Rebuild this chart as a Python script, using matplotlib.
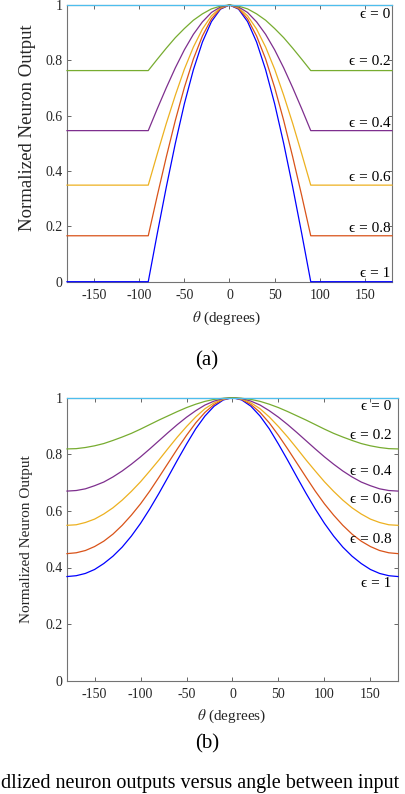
import numpy as np
import matplotlib.pyplot as plt

plt.rcParams['font.family'] = ['Liberation Serif', 'DejaVu Serif']
plt.rcParams['mathtext.fontset'] = 'stix'
plt.rcParams['axes.unicode_minus'] = False

# epsilon values and line colours (MATLAB order)
eps_labels = ['0', '0.2', '0.4', '0.6', '0.8', '1']
colors = [(0.301, 0.745, 0.933), (0.466, 0.674, 0.188), (0.494, 0.184, 0.556),
          (0.929, 0.694, 0.125), (0.850, 0.325, 0.098), (0.0, 0.0, 1.0)]

# (a) for theta >= 0, curves are symmetric
theta_a = [0, 10, 20, 30, 40, 50, 60, 70, 80, 90, 180]
a_eps0 = [1, 1, 1, 1, 1, 1, 1, 1, 1, 1, 1]
a_eps02 = [1, 0.996, 0.986, 0.968, 0.945, 0.915, 0.882, 0.844, 0.804, 0.763, 0.763]
a_eps04 = [1, 0.993, 0.973, 0.939, 0.894, 0.838, 0.773, 0.701, 0.625, 0.546, 0.546]
a_eps06 = [1, 0.990, 0.961, 0.913, 0.848, 0.768, 0.674, 0.572, 0.462, 0.349, 0.349]
a_eps08 = [1, 0.987, 0.950, 0.888, 0.805, 0.702, 0.583, 0.451, 0.311, 0.166, 0.166]
a_eps1 = [1, 0.985, 0.940, 0.866, 0.766, 0.643, 0.500, 0.342, 0.174, 0, 0]

# (b)
theta_b = [0, 10, 20, 30, 40, 50, 60, 70, 80, 90, 100, 110, 120, 130, 140, 150, 160, 170, 180]
b_eps0 = [1] * 19
b_eps02 = [1, 0.998, 0.994, 0.987, 0.977, 0.965, 0.951, 0.936, 0.921, 0.905,
           0.889, 0.874, 0.861, 0.849, 0.838, 0.830, 0.824, 0.820, 0.819]
b_eps04 = [1, 0.997, 0.988, 0.974, 0.954, 0.931, 0.905, 0.877, 0.848, 0.819,
           0.791, 0.765, 0.741, 0.720, 0.702, 0.689, 0.678, 0.672, 0.670]
b_eps06 = [1, 0.995, 0.982, 0.961, 0.932, 0.898, 0.861, 0.821, 0.780, 0.741,
           0.703, 0.669, 0.638, 0.611, 0.589, 0.571, 0.559, 0.551, 0.549]
b_eps08 = [1, 0.994, 0.976, 0.948, 0.911, 0.867, 0.819, 0.769, 0.719, 0.670,
           0.625, 0.585, 0.549, 0.518, 0.493, 0.474, 0.460, 0.452, 0.449]
b_eps1 = [1, 0.992, 0.970, 0.935, 0.890, 0.836, 0.779, 0.720, 0.662, 0.607,
          0.556, 0.511, 0.472, 0.440, 0.414, 0.393, 0.379, 0.371, 0.368]

# label heights for each epsilon
lab_a_y = [0.967, 0.795, 0.573, 0.375, 0.194, 0.028]
lab_b_y = [0.968, 0.866, 0.739, 0.639, 0.500, 0.344]

curves_a = [a_eps0, a_eps02, a_eps04, a_eps06, a_eps08, a_eps1]
curves_b = [b_eps0, b_eps02, b_eps04, b_eps06, b_eps08, b_eps1]


def mirror(th, v):
    th = np.asarray(th, float)
    v = np.asarray(v, float)
    return np.concatenate([-th[::-1], th[1:]]), np.concatenate([v[::-1], v[1:]])


W, H = 406, 794
fig = plt.figure(figsize=(W / 100, H / 100), dpi=100)

ax1 = fig.add_axes([67 / W, 1 - 281.7 / H, 325 / W, 276.7 / H])
ax2 = fig.add_axes([67 / W, 1 - 680.7 / H, 331 / W, 283 / H])

for ax, th, curves, laby, xr in [(ax1, theta_a, curves_a, lab_a_y, 178),
                                 (ax2, theta_b, curves_b, lab_b_y, 173)]:
    # draw eps=1 first so eps=0 ends on top
    for i in range(5, -1, -1):
        x, y = mirror(th, curves[i])
        ax.plot(x, y, color=colors[i], lw=0.9, clip_on=False, zorder=3)
    for i in range(6):
        ax.text(xr, laby[i], '\u03f5 = ' + eps_labels[i], ha='right',
                va='center', fontsize=11, color='black', zorder=4)
    ax.set_xlim(-180, 180)
    ax.set_ylim(0, 1)
    ax.set_xticks([-150, -100, -50, 0, 50, 100, 150])
    ax.set_yticks([0, 0.2, 0.4, 0.6, 0.8, 1])
    ax.set_yticklabels(['0', '0.2', '0.4', '0.6', '0.8', '1'])
    ax.tick_params(direction='in', top=True, right=True, length=3, width=0.6,
                   colors='0.3', labelcolor='0.15', labelsize=10)
    ax.tick_params(axis='x', pad=5)
    ax.tick_params(axis='y', pad=3)
    for s in ax.spines.values():
        s.set_color('0.45')
        s.set_linewidth(0.8)
    ax.set_xlabel(r'$\theta$ (degrees)', fontsize=11, color='0.15')

ax1.set_ylabel('Normalized Neuron Output', fontsize=13.5, color='0.15')
ax2.set_ylabel('Normalized Neuron Output', fontsize=11, color='0.15')
ax1.yaxis.set_label_coords(-0.095, 0.555)
ax2.yaxis.set_label_coords(-0.103, 0.5)
ax1.xaxis.set_label_coords(0.49, -0.102)
ax2.xaxis.set_label_coords(0.497, -0.096)

fig.text(207 / W, 1 - 361 / H, '(a)', ha='center', va='center', fontsize=15)
fig.text(207 / W, 1 - 744 / H, '(b)', ha='center', va='center', fontsize=15)
fig.text(1 / W, 1 - 793 / H, 'dlized neuron outputs versus angle between input',
         ha='left', va='bottom', fontsize=14.5)

fig.savefig('out.png', dpi=100)
